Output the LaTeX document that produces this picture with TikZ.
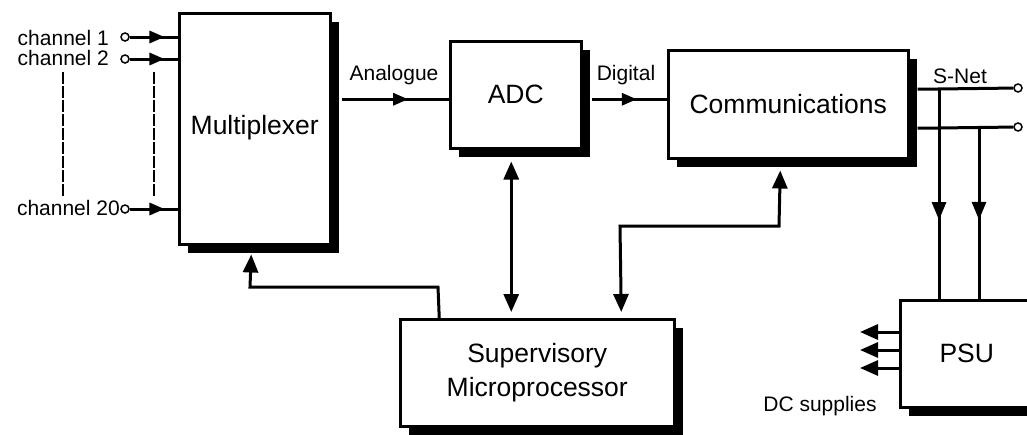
\documentclass[tikz,border=0pt]{standalone}
\usepackage{fontspec}
\setmainfont{Liberation Sans}
\usetikzlibrary{arrows.meta,shadows,decorations.markings,calc,positioning}
\tikzset{
  blk/.style={draw, line width=2.5pt, fill=white, inner sep=0pt,
    font=\fontsize{26.5}{34}\selectfont, align=center,
    drop shadow={shadow xshift=9pt, shadow yshift=-9pt, fill=black, opacity=1}},
  lbl/.style={inner sep=0pt, font=\fontsize{21}{24}\selectfont},
  port/.style={circle, draw, fill=white, line width=1.5pt, inner sep=0pt, minimum size=8pt},
  wire/.style={line width=3pt},
  tipS/.style={-{Triangle[length=18pt,width=15pt]}},
  tipL/.style={-{Triangle[length=18pt,width=15pt]}},
  bothL/.style={{Triangle[length=18pt,width=15pt]}-{Triangle[length=18pt,width=15pt]}},
  midarrow/.style={postaction={decorate}, decoration={markings,
    mark=at position #1 with {\arrow{Triangle[length=15pt,width=12pt]}}}},
  midarrowL/.style={postaction={decorate}, decoration={markings,
    mark=at position #1 with {\arrow{Triangle[length=18pt,width=14pt]}}}},
  chan/.style={dashed, dash pattern=on 12pt off 2pt, line width=2pt}
}
\begin{document}
\begin{tikzpicture}[x=1pt,y=-1pt]
\useasboundingbox (0,0) rectangle (1027,434);
\clip (0,0) rectangle (1027,434);

% boxes
\node[blk, anchor=north west, minimum width=151pt, minimum height=231pt] (mux) at (178,12) {\raisebox{7pt}{Multiplexer}};
\node[blk, anchor=north west, minimum width=131pt, minimum height=107pt] (adc) at (449,40) {\raisebox{-4pt}{ADC}};
\node[blk, anchor=north west, minimum width=240pt, minimum height=108pt] (comm) at (667,49) {Communications};
\node[blk, anchor=north west, minimum width=274pt, minimum height=107pt] (sup) at (399,318) {Supervisory\\Microprocessor};
\node[blk, anchor=north west, minimum width=133pt, minimum height=107pt] (psu) at (899,299) {PSU};

% input channels
\node[port] (p1) at (125,37) {};
\node[port] (p2) at (125,59) {};
\node[port] (p20) at (125,209) {};
\node[lbl, anchor=base east] (l1) at (109,45) {channel 1};
\node[lbl, anchor=base east] (l2) at (109,65) {channel 2};
\node[lbl, anchor=base east] (l20) at (120,215) {channel 20};
\draw[wire, midarrow=0.72] (p1) -- (p1 -| mux.west);
\draw[wire, midarrow=0.72] (p2) -- (p2 -| mux.west);
\draw[wire, midarrow=0.72] (p20) -- (p20 -| mux.west);
\coordinate (d1a) at (63,72);  \coordinate (d1b) at (63,197);
\coordinate (d2a) at (154,72); \coordinate (d2b) at (154,197);
\draw[chan] (d1a) -- (d1b);
\draw[chan] (d2a) -- (d2b);

% analogue / digital
\draw[wire, midarrow=0.62] ($(mux.east)+(10,-29.5)$) -- ($(adc.west)+(0,4.5)$);
\node[lbl, anchor=base] (lan) at (394,80) {Analogue};
\draw[wire, midarrow=0.6] ($(adc.east)+(9,4.5)$) -- ($(comm.west)+(0,-5)$);
\node[lbl, anchor=base] (ldig) at (626,80) {Digital};

% S-Net
\node[port] (s1) at (1018,88) {};
\node[port] (s2) at (1018,127) {};
\draw[wire] ($(comm.east)+(8,-15)$) -- (s1);
\draw[wire] ($(comm.east)+(8,24)$) -- (s2);
\node[lbl, anchor=base] (lsn) at (960,83) {S-Net};
\coordinate (j1) at (939,88);
\coordinate (j2) at (979,127);
\draw[wire, midarrowL=0.626] (j1) -- (j1 |- psu.north);
\draw[wire, midarrowL=0.54] (j2) -- (j2 |- psu.north);

% DC supplies
\foreach \yy/\nm in {332/o1, 350/o2, 368/o3}{
  \coordinate (\nm) at (860,\yy);
  \draw[wire, tipS] (\nm -| psu.west) -- (\nm);
}
\node[lbl, anchor=base] (ldc) at (820,411) {DC supplies};

% supervisory links
\draw[wire, bothL] ($(adc.south)+(-4.5,12)$) -- ($(sup.north)+(-26,-6)$);
\coordinate (b1) at (620,226);
\coordinate (b2) at (779,226);
\draw[wire, bothL] ($(sup.north)+(84,-6)$) -- (b1) -- (b2) -- ($(comm.south)+(-8,11)$);
\coordinate (c1) at (438,287);
\coordinate (c2) at (250,287);
\draw[wire, tipL] ($(sup.north)+(-98,0)$) -- (c1) -- (c2) -- ($(mux.south)+(-3.5,9)$);
\end{tikzpicture}
\end{document}
